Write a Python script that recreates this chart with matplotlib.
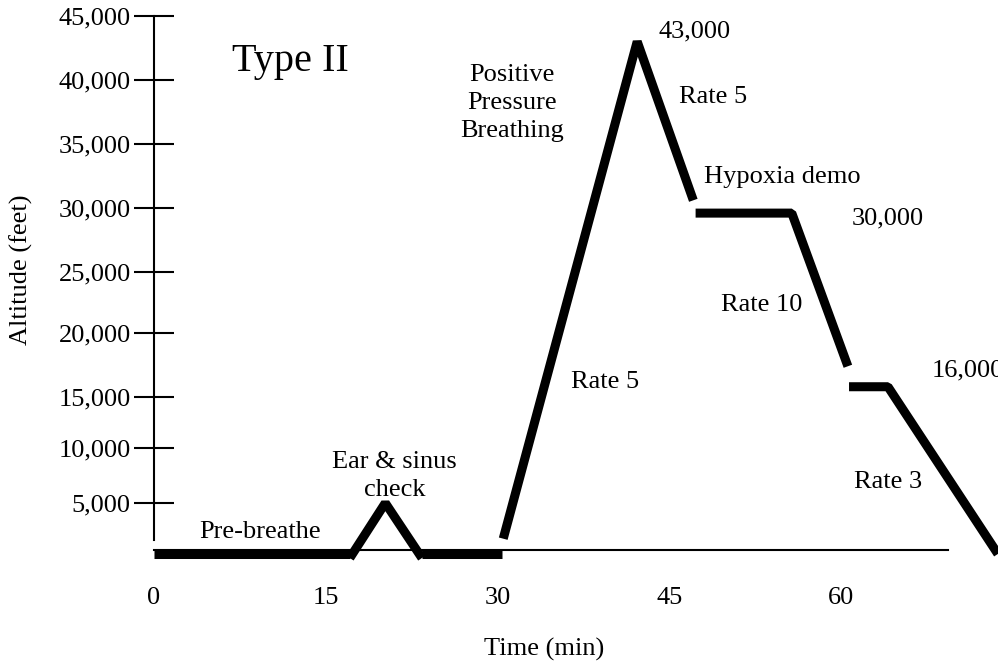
import numpy as np
import matplotlib
matplotlib.use('Agg')
import matplotlib.pyplot as plt
from matplotlib.ticker import FuncFormatter

plt.rcParams['font.family'] = ['Liberation Serif', 'DejaVu Serif']

# flight profile pieces (time in min, altitude in feet)
ground1_t = [0, 17.1]
ground1_alt = [0, 0]
ear_t = [17.1, 20.2, 23.4]
ear_alt = [-400, 5000, -400]
ground2_t = [23.4, 30.4]
ground2_alt = [0, 0]
climb_t = [30.5, 42.2, 47.1]
climb_alt = [1500, 43000, 30600]
hypoxia_t = [47.3, 55.7, 60.6]
hypoxia_alt = [29600, 29600, 17400]
final_t = [60.7, 64.1, 73.7]
final_alt = [15800, 15800, 0]

x_ticks = [0, 15, 30, 45, 60]
y_ticks = [5000, 10000, 15000, 20000, 25000, 30000, 35000, 40000, 45000]

# the hand drawn altitude axis is not evenly spaced: row of each tick in the source
scale_alt = [-20000, 0, 5000, 10000, 15000, 20000, 25000, 30000, 35000, 40000, 45000, 60000]
scale_row = [758, 554, 503, 448, 397, 333, 272, 208, 144, 80, 16, -176]
neg_row = [-r for r in scale_row]


def fwd(a):
    return np.interp(a, scale_alt, neg_row)


def inv(v):
    return np.interp(v, neg_row, scale_alt)


fig = plt.figure(figsize=(9.98, 6.63), dpi=100)
ax = fig.add_axes([0, 0, 1, 1])
ax.set_yscale('function', functions=(fwd, inv))
ax.set_xlim(-13.45, 73.71)
ax.set_ylim(-10690, 46250)

lw = 6.5
for t, a in [(ground1_t, ground1_alt), (ear_t, ear_alt), (ground2_t, ground2_alt),
             (climb_t, climb_alt), (hypoxia_t, hypoxia_alt), (final_t, final_alt)]:
    ax.plot(t, a, color='black', linewidth=lw, solid_capstyle='butt',
            solid_joinstyle='bevel', clip_on=True)

for s in ['top', 'right']:
    ax.spines[s].set_visible(False)
ax.spines['left'].set_position(('data', 0))
ax.spines['left'].set_bounds(1400, 45000)
ax.spines['left'].set_linewidth(1.5)
ax.spines['bottom'].set_position(('data', 400))
ax.spines['bottom'].set_bounds(0, 69.3)
ax.spines['bottom'].set_linewidth(1.5)

fs = 19
ax.set_xticks(x_ticks)
ax.set_yticks(y_ticks)
ax.yaxis.set_minor_locator(matplotlib.ticker.NullLocator())
ax.yaxis.set_major_formatter(FuncFormatter(lambda v, p: f'{int(v):,}'))
ax.tick_params(axis='y', direction='inout', length=29.5, width=1.5, pad=2, labelsize=fs)
ax.tick_params(axis='x', length=0, pad=27, labelsize=fs)

ax.text(11.9, 41450, 'Type II', fontsize=29, ha='center', va='center')
ax.text(31.3, 38200, 'Positive\nPressure\nBreathing', fontsize=fs, ha='center', va='center',
        linespacing=1.37)
ax.text(47.2, 43800, '43,000', fontsize=fs, ha='center', va='center')
ax.text(48.8, 38700, 'Rate 5', fontsize=fs, ha='center', va='center')
ax.text(54.9, 32400, 'Hypoxia demo', fontsize=fs, ha='center', va='center')
ax.text(64.1, 29200, '30,000', fontsize=fs, ha='center', va='center')
ax.text(53.1, 22300, 'Rate 10', fontsize=fs, ha='center', va='center')
ax.text(67.9, 17100, '16,000', fontsize=fs, ha='left', va='center')
ax.text(39.4, 16200, 'Rate 5', fontsize=fs, ha='center', va='center')
ax.text(64.1, 6900, 'Rate 3', fontsize=fs, ha='center', va='center')
ax.text(21.0, 7450, 'Ear & sinus\ncheck', fontsize=fs, ha='center', va='center',
        linespacing=1.37)
ax.text(9.3, 2150, 'Pre-breathe', fontsize=fs, ha='center', va='center')
ax.text(34.1, -9350, 'Time (min)', fontsize=fs, ha='center', va='center')
ax.text(-11.6, 25150, 'Altitude (feet)', fontsize=fs, ha='center', va='center', rotation=90)

fig.savefig('out.png', dpi=100)
